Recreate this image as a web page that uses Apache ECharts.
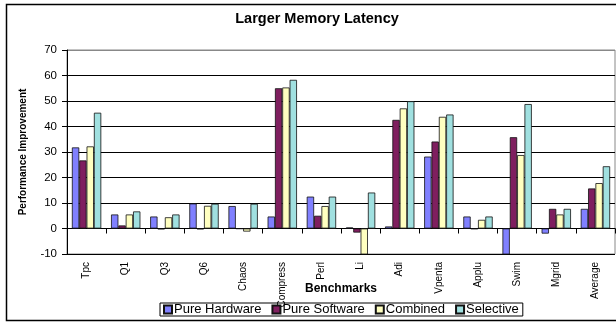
<!DOCTYPE html>
<html>
<head>
<meta charset="utf-8">
<script src="https://cdn.jsdelivr.net/npm/echarts@6/dist/echarts.min.js"></script>
<style>
  html, body { margin: 0; padding: 0; background: #fff; }
  #chart { width: 616px; height: 322px; }
</style>
</head>
<body>
<div id="chart"></div>
<script>
// Benchmarks on the category axis
const benchmarks = ['Tpc', 'Q1', 'Q3', 'Q6', 'Chaos', 'Compress', 'Perl', 'Li', 'Adi', 'Vpenta', 'Applu', 'Swim', 'Mgrid', 'Average'];

// Performance improvement (%) per scheme
const pureHardware = [31.8, 5.5, 4.7, 9.8, 8.8, 4.7, 12.5, 0.4, 0.8, 28.2, 4.7, -10.5, -2.0, 7.7];
const pureSoftware = [26.7, 1.2, -0.3, -0.3, -0.1, 55.0, 5.0, -1.6, 42.6, 34.1, -0.2, 35.8, 7.7, 15.7];
const combined     = [32.2, 5.5, 4.4, 8.9, -1.2, 55.3, 8.8, -10.5, 47.1, 43.8, 3.4, 28.8, 5.5, 17.8];
const selective    = [45.4, 6.7, 5.5, 9.7, 9.7, 58.3, 12.5, 14.1, 49.9, 44.7, 4.7, 48.8, 7.7, 24.4];

const seriesNames = ['Pure Hardware', 'Pure Software', 'Combined', 'Selective'];
const seriesData = [pureHardware, pureSoftware, combined, selective];
const seriesColors = ['#8080ff', '#7f1f5f', '#ffffc0', '#a0e0e0'];

// Value axis range and step
const yMin = -10, yMax = 70, yStep = 10;

const FONT = '"Liberation Sans", Arial, sans-serif';

const chart = echarts.init(document.getElementById('chart'), null, { renderer: 'canvas' });

const gridLeft = 67, gridTop = 50, gridRight = 1, gridBottom = 68;

chart.setOption({
  animation: false,
  backgroundColor: '#fff',
  textStyle: { fontFamily: FONT },
  grid: { left: gridLeft, right: gridRight, top: gridTop, bottom: gridBottom, containLabel: false },
  legend: {
    data: seriesNames,
    left: 160,
    top: 303,
    orient: 'horizontal',
    itemWidth: 8,
    itemHeight: 8,
    itemGap: 10,
    padding: [0, 4, 0, 3],
    borderColor: '#000',
    borderWidth: 1,
    icon: 'rect',
    textStyle: { fontFamily: FONT, fontSize: 13, color: '#000', padding: [0, 0, 0, -3] }
  },
  xAxis: {
    type: 'category',
    data: benchmarks,
    axisLine: { onZero: true, lineStyle: { color: '#000', width: 1 } },
    axisTick: { show: true, length: 5, lineStyle: { color: '#000' } },
    axisLabel: {
      rotate: 90,
      margin: 8,
      fontFamily: FONT,
      fontSize: 10,
      color: '#000',
      interval: 0
    },
    splitLine: { show: false }
  },
  yAxis: {
    type: 'value',
    min: yMin,
    max: yMax,
    interval: yStep,
    axisLine: { show: true, onZero: false, lineStyle: { color: '#000', width: 1 } },
    axisTick: { show: true, length: 5, lineStyle: { color: '#000' } },
    axisLabel: { fontFamily: FONT, fontSize: 11.5, color: '#000', margin: 10 },
    splitLine: {
      show: true,
      lineStyle: { color: ['#000', '#000', '#000', '#000', '#000', '#000', '#000', '#000', '#888'], width: 1 }
    }
  },
  series: seriesNames.map((name, i) => ({
    name: name,
    type: 'bar',
    data: seriesData[i],
    barGap: '0%',
    barCategoryGap: '25%',
    clip: true,
    itemStyle: { color: seriesColors[i], borderColor: '#111', borderWidth: 0.8 }
  })),
  graphic: [
    // outer chart frame
    { type: 'rect', left: 4, top: 2, z: 100, silent: true,
      shape: { x: 0, y: 0, width: 640, height: 316 },
      style: { fill: 'none', stroke: '#000', lineWidth: 1.5 } },
    // plot area border
    { type: 'rect', z: 0, silent: true,
      shape: { x: gridLeft, y: gridTop, width: 616 - gridLeft - gridRight, height: 322 - gridTop - gridBottom },
      style: { fill: 'none', stroke: '#888', lineWidth: 1 } },
    { type: 'text', z: 100, x: 317, y: 19, silent: true,
      style: { text: 'Larger Memory Latency', font: 'bold 14.5px ' + FONT, fill: '#000', textAlign: 'center', textVerticalAlign: 'middle' } },
    { type: 'text', z: 100, x: 341, y: 289, silent: true,
      style: { text: 'Benchmarks', font: 'bold 12px ' + FONT, fill: '#000', textAlign: 'center', textVerticalAlign: 'middle' } },
    { type: 'text', z: 100, x: 23, y: 152, rotation: Math.PI / 2, silent: true,
      style: { text: 'Performance Improvement', font: 'bold 10px ' + FONT, fill: '#000', textAlign: 'center', textVerticalAlign: 'middle' } }
  ]
});
</script>
</body>
</html>
